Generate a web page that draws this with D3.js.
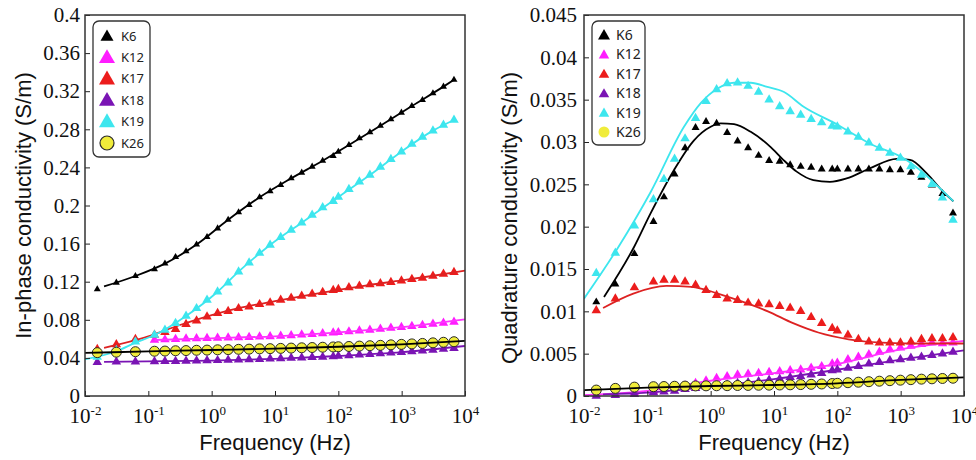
<!DOCTYPE html>
<html>
<head>
<meta charset="utf-8">
<script src="https://cdn.jsdelivr.net/npm/d3@7"></script>
<style>
  html, body { margin: 0; background: #fff; }
  svg { display: block; }
</style>
</head>
<body>
<div id="chart"></div>
<script>
/* Complex conductivity spectra — in-phase (left) and quadrature (right) */

const SAMPLES = ['K6', 'K12', 'K17', 'K18', 'K19', 'K26'];
const MARK_COLORS = ['#000000', '#ff1cff', '#ec1c1c', '#7a14b4', '#3de6ee', '#f0ec3a'];
const LINE_COLORS = ['#000000', '#ff33ff', '#dd2222', '#7a14b4', '#3de6ee', '#000000'];

const FREQ = [0.015625, 0.03125, 0.0625, 0.125, 0.183, 0.269, 0.394, 0.577, 0.845, 1.24, 1.82,
  2.66, 3.9, 5.71, 8.37, 12.3, 18.0, 26.4, 38.6, 56.6, 83.0, 100, 147, 215, 315, 461, 676,
  991, 1450, 2130, 3120, 4570, 6700];

const X_TICKS = [1e-2, 1e-1, 1e0, 1e1, 1e2, 1e3, 1e4];
const X_EXP = ['-2', '-1', '0', '1', '2', '3', '4'];

const Y_TICKS_IP = [0, 0.04, 0.08, 0.12, 0.16, 0.2, 0.24, 0.28, 0.32, 0.36, 0.4];
const Y_LABELS_IP = ['0', '0.04', '0.08', '0.12', '0.16', '0.2', '0.24', '0.28', '0.32', '0.36', '0.4'];
const Y_TICKS_Q = [0, 0.005, 0.01, 0.015, 0.02, 0.025, 0.03, 0.035, 0.04, 0.045];
const Y_LABELS_Q = ['0', '0.005', '0.01', '0.015', '0.02', '0.025', '0.03', '0.035', '0.04', '0.045'];

// In-phase conductivity (S/m), measured
const IP_K6 = [0.112, 0.119, 0.126, 0.133, 0.139, 0.146, 0.152, 0.159, 0.167, 0.176, 0.185, 0.193,
  0.2005, 0.2086, 0.215, 0.2215, 0.2285, 0.2345, 0.2408, 0.247, 0.252, 0.2565, 0.2635, 0.2705,
  0.2768, 0.2838, 0.2905, 0.2975, 0.3045, 0.3108, 0.3178, 0.3248, 0.332];
const IP_K12 = [null, null, null, 0.0588, 0.0592, 0.0596, 0.0600, 0.0603, 0.0606, 0.0609, 0.0612,
  0.0615, 0.0618, 0.0621, 0.0625, 0.0629, 0.0635, 0.0642, 0.0649, 0.0656, 0.0664, 0.0668, 0.0676,
  0.0685, 0.0694, 0.0703, 0.0713, 0.0723, 0.0733, 0.0744, 0.0755, 0.0766, 0.0777];
const IP_K17 = [0.049, 0.054, 0.0595, 0.064, 0.067, 0.070, 0.0753, 0.079, 0.0833, 0.0868, 0.089,
  0.092, 0.0938, 0.0962, 0.098, 0.1008, 0.103, 0.105, 0.107, 0.109, 0.111, 0.112, 0.114, 0.1155,
  0.117, 0.118, 0.1195, 0.121, 0.1225, 0.124, 0.126, 0.128, 0.130];
const IP_K18 = [0.0355, 0.036, 0.036, 0.0362, 0.0364, 0.0366, 0.0368, 0.037, 0.0372, 0.0374, 0.0377,
  0.038, 0.0383, 0.0386, 0.039, 0.0394, 0.0398, 0.0402, 0.0406, 0.041, 0.0415, 0.042, 0.0426,
  0.0432, 0.0439, 0.0446, 0.0453, 0.046, 0.0468, 0.0476, 0.0484, 0.0493, 0.0502];
const IP_K19 = [0.041, 0.048, 0.057, 0.064, 0.0693, 0.0763, 0.084, 0.092, 0.1008, 0.1095, 0.119,
  0.1305, 0.140, 0.150, 0.1585, 0.1666, 0.1743, 0.182, 0.190, 0.198, 0.2045, 0.209, 0.217, 0.225,
  0.232, 0.2405, 0.2485, 0.2565, 0.2645, 0.272, 0.2786, 0.2845, 0.2898];
const IP_K26 = [0.0455, 0.046, 0.0465, 0.047, 0.0472, 0.0475, 0.0477, 0.048, 0.0482, 0.0485, 0.0487,
  0.049, 0.0492, 0.0495, 0.0497, 0.05, 0.0503, 0.0506, 0.0509, 0.0512, 0.0515, 0.0517, 0.052,
  0.0524, 0.0528, 0.0532, 0.0537, 0.0542, 0.0547, 0.0552, 0.0558, 0.0564, 0.057];

// In-phase model fits [freq, value]
const FIT_IP_K6 = [[0.02, 0.115], [0.0625, 0.126], [0.183, 0.139], [0.577, 0.159], [1.82, 0.185],
  [5.71, 0.2086], [18, 0.2285], [56.6, 0.247], [147, 0.2635], [461, 0.2838], [1450, 0.3045],
  [4570, 0.3248], [6700, 0.332]];
const FIT_IP_K12 = [[0.125, 0.0588], [1, 0.0606], [10, 0.0627], [100, 0.0668], [1000, 0.0723], [10000, 0.0805]];
const FIT_IP_K17 = [[0.02, 0.0505], [0.1, 0.0625], [0.3, 0.074], [1, 0.085], [3, 0.093], [10, 0.0995],
  [30, 0.1055], [100, 0.1115], [300, 0.1165], [1000, 0.1213], [3000, 0.126], [10000, 0.1316]];
const FIT_IP_K18 = [[0.02, 0.0358], [1, 0.0372], [10, 0.039], [100, 0.042], [1000, 0.046], [10000, 0.0525]];
const FIT_IP_K19 = [[0.01, 0.0385], [0.0312, 0.047], [0.0625, 0.056], [0.125, 0.064], [0.394, 0.084],
  [1.24, 0.1095], [2.66, 0.1305], [8.37, 0.1585], [26.4, 0.182], [100, 0.209], [315, 0.232],
  [991, 0.2565], [3120, 0.2786], [6700, 0.2898]];
const FIT_IP_K26 = [[0.01, 0.0453], [0.1, 0.0468], [1, 0.0483], [10, 0.0498], [100, 0.0517], [1000, 0.0542], [10000, 0.0578]];

// Quadrature conductivity (S/m), measured
const Q_K6 = [0.0111, 0.0132, 0.0168, 0.0206, 0.0235, 0.0262, 0.0293, 0.0317, 0.0324, 0.0322, 0.0311,
  0.0301, 0.0293, 0.0284, 0.0278, 0.0277, 0.0273, 0.0271, 0.0270, 0.0268, 0.0268, 0.0268, 0.0268,
  0.0268, 0.0268, 0.0268, 0.0267, 0.0267, 0.0264, 0.0258, 0.0249, 0.0239, 0.0216];
const Q_K12 = [0.0002, 0.0003, 0.0004, 0.0006, 0.0008, 0.0010, 0.0012, 0.0015, 0.0018, 0.0021, 0.0023,
  0.0025, 0.0026, 0.0027, 0.0028, 0.0029, 0.0030, 0.0031, 0.0033, 0.0035, 0.0038, 0.0039, 0.0043,
  0.0046, 0.0049, 0.0052, 0.0055, 0.0057, 0.0059, 0.0061, 0.0063, 0.0062, 0.0063];
const Q_K17 = [0.0101, 0.0115, 0.0128, 0.0135, 0.0137, 0.0137, 0.0135, 0.0131, 0.0125, 0.0119, 0.0115,
  0.0113, 0.0110, 0.0109, 0.0108, 0.0106, 0.0104, 0.0100, 0.0093, 0.0086, 0.0080, 0.0077, 0.0072,
  0.0067, 0.0064, 0.0063, 0.0063, 0.0063, 0.0064, 0.0067, 0.0068, 0.0068, 0.0069];
const Q_K18 = [0.0000, 0.0001, 0.0002, 0.0004, 0.0005, 0.0006, 0.0008, 0.0009, 0.0011, 0.0012, 0.0013,
  0.0015, 0.0016, 0.0017, 0.0019, 0.0020, 0.0022, 0.0023, 0.0025, 0.0027, 0.0030, 0.0031, 0.0033,
  0.0035, 0.0038, 0.0040, 0.0042, 0.0043, 0.0045, 0.0046, 0.0048, 0.0050, 0.0052];
const Q_K19 = [0.0145, 0.0169, 0.0201, 0.0232, 0.0256, 0.0280, 0.0304, 0.0328, 0.0348, 0.0362, 0.0369,
  0.0370, 0.0366, 0.0359, 0.0350, 0.0342, 0.0336, 0.0332, 0.0327, 0.0323, 0.0319, 0.0318, 0.0312,
  0.0306, 0.0299, 0.0293, 0.0287, 0.0281, 0.0271, 0.0261, 0.0250, 0.0234, 0.0208];
const Q_K26 = [0.0007, 0.0009, 0.00105, 0.0011, 0.00112, 0.00115, 0.00117, 0.00119, 0.0012, 0.00121,
  0.00122, 0.00124, 0.00125, 0.00127, 0.00128, 0.0013, 0.00132, 0.00135, 0.00138, 0.00142, 0.00147,
  0.0015, 0.00157, 0.00163, 0.00169, 0.00175, 0.00181, 0.00187, 0.00193, 0.00199, 0.00203, 0.00207, 0.0021];

// Quadrature model fits [freq, value]
const FIT_Q_K6 = [[0.0207, 0.0117], [0.0617, 0.0176], [0.113, 0.0216], [0.264, 0.0267], [0.546, 0.0302],
  [1.0, 0.0318], [1.44, 0.0322], [2.34, 0.0321], [4.29, 0.0312], [8.87, 0.0294], [14, 0.0279],
  [22.8, 0.0265], [41.8, 0.0255], [76.6, 0.0253], [140, 0.0257], [328, 0.0269], [865, 0.0280],
  [1405, 0.0279], [2580, 0.0263], [4720, 0.0241], [6790, 0.0230]];
const FIT_Q_K12 = [[0.01, 0.0001], [0.1, 0.0006], [1, 0.0018], [10, 0.0027], [100, 0.0038], [1000, 0.0055], [10000, 0.0065]];
const FIT_Q_K17 = [[0.02, 0.0104], [0.06, 0.0121], [0.2, 0.0130], [0.5, 0.0129], [1.3, 0.0121], [3, 0.0112],
  [8, 0.0100], [20, 0.0086], [50, 0.0075], [150, 0.0067], [500, 0.0063], [2000, 0.0062], [10000, 0.0062]];
const FIT_Q_K18 = [[0.02, 0.0002], [0.1, 0.0004], [1, 0.0011], [10, 0.002], [100, 0.0031], [1000, 0.0043], [10000, 0.0054]];
const FIT_Q_K19 = [[0.01, 0.0115], [0.0336, 0.0174], [0.113, 0.0241], [0.379, 0.0318], [0.697, 0.0346],
  [1.27, 0.0363], [2.34, 0.0370], [4.29, 0.0370], [7.84, 0.0365], [14.4, 0.0359], [29, 0.0342],
  [98, 0.0321], [328, 0.0298], [1100, 0.0281], [2020, 0.0267], [3700, 0.0249], [6790, 0.0230]];
const FIT_Q_K26 = [[0.01, 0.0007], [0.1, 0.001], [1, 0.00118], [10, 0.0013], [100, 0.0015], [1000, 0.0019], [10000, 0.0022]];

const W = 976, H = 460, PT = 15, PB = 396;
const SERIF = '"Liberation Serif", "Times New Roman", serif';
const SANS = '"Liberation Sans", Arial, sans-serif';
const LEG_FONT = '"Noto Sans", "Open Sans", sans-serif';

const triArea = w => Math.sqrt(3) / 4 * w * w;
const circArea = d => Math.PI * d * d / 4;

const svg = d3.select('#chart').append('svg').attr('width', W).attr('height', H);

function drawPanel(p) {
  const x = d3.scaleLog().domain([1e-2, 1e4]).range([p.x0, p.x1]);
  const y = d3.scaleLinear().domain([0, p.yMax]).range([PB, PT]);
  const g = svg.append('g');

  g.append('clipPath').attr('id', 'clip-' + p.id).append('rect')
    .attr('x', p.x0).attr('y', PT).attr('width', p.x1 - p.x0).attr('height', PB - PT);

  const line = d3.line().x(d => x(d[0])).y(d => y(d[1])).curve(d3.curveMonotoneX);

  SAMPLES.forEach((name, i) => {
    const pts = FREQ.map((f, k) => [f, p.data[i][k]]).filter(d => d[1] != null);
    const isCircle = name === 'K26';
    const sym = d3.symbol(isCircle ? d3.symbolCircle : d3.symbolTriangle,
      isCircle ? circArea(p.circD) : triArea(i === 0 ? p.tri0 : p.tri));
    g.append('g').selectAll('path').data(pts).join('path')
      .attr('transform', d => `translate(${x(d[0])},${y(d[1])})`)
      .attr('d', sym)
      .attr('fill', MARK_COLORS[i])
      .attr('stroke', isCircle ? '#2a2a2a' : 'none').attr('stroke-width', 1);
    g.append('path').datum(p.fits[i])
      .attr('clip-path', `url(#clip-${p.id})`)
      .attr('d', line).attr('fill', 'none')
      .attr('stroke', LINE_COLORS[i]).attr('stroke-width', 1.8);
  });

  // axes (ticks point inward)
  const xa = g.append('g').attr('transform', `translate(0,${PB})`)
    .call(d3.axisBottom(x).tickValues(X_TICKS).tickSize(-5).tickSizeOuter(0).tickPadding(12).tickFormat(() => ''))
    .attr('font-family', SERIF).attr('font-size', 21).attr('color', '#222');
  xa.select('.domain').remove();
  xa.selectAll('.tick text').each(function(d, i) {
    const t = d3.select(this).attr('fill', '#111');
    t.append('tspan').text('10');
    t.append('tspan').attr('dy', -8).attr('font-size', 13).text(X_EXP[i]);
  });

  const ya = g.append('g').attr('transform', `translate(${p.x0},0)`)
    .call(d3.axisLeft(y).tickValues(p.yTicks).tickSize(-5).tickSizeOuter(0).tickPadding(p.pad)
      .tickFormat((d, i) => p.yLabels[i]))
    .attr('font-family', SERIF).attr('font-size', 21).attr('color', '#222');
  ya.select('.domain').remove();
  ya.selectAll('.tick text').attr('fill', '#111');

  g.append('rect').attr('x', p.x0).attr('y', PT).attr('width', p.x1 - p.x0).attr('height', PB - PT)
    .attr('fill', 'none').attr('stroke', '#333').attr('stroke-width', 1.5);

  // titles
  g.append('text').attr('x', (p.x0 + p.x1) / 2).attr('y', 450).attr('text-anchor', 'middle')
    .attr('font-family', SANS).attr('font-size', 22).attr('fill', '#111').text('Frequency (Hz)');
  g.append('text').attr('transform', `translate(${p.titleX},${p.titleY}) rotate(-90)`)
    .attr('text-anchor', 'middle').attr('font-family', SANS).attr('font-size', 22)
    .attr('fill', '#111').text(p.yTitle);

  // legend
  const L = p.legend;
  const lg = g.append('g');
  lg.append('rect').attr('x', L.x).attr('y', L.y).attr('width', L.w).attr('height', L.h)
    .attr('rx', 6).attr('fill', '#fff').attr('stroke', '#333').attr('stroke-width', 1.3);
  SAMPLES.forEach((name, i) => {
    const cy = L.row0 + i * L.dy;
    const isCircle = name === 'K26';
    lg.append('path').attr('transform', `translate(${L.mx},${cy + (isCircle ? 0 : 1)})`)
      .attr('d', d3.symbol(isCircle ? d3.symbolCircle : d3.symbolTriangle,
        isCircle ? circArea(L.circD) : triArea(i === 0 ? L.tri0 : L.tri)))
      .attr('fill', MARK_COLORS[i])
      .attr('stroke', isCircle && L.circStroke ? '#2a2a2a' : 'none').attr('stroke-width', 1.2);
    lg.append('text').attr('x', L.tx).attr('y', cy).attr('dy', '0.36em')
      .attr('font-family', LEG_FONT).attr('font-size', L.font).attr('fill', '#222').text(name);
  });
}

drawPanel({
  id: 'ip', x0: 85, x1: 465, yMax: 0.4, yTicks: Y_TICKS_IP, yLabels: Y_LABELS_IP, pad: 5,
  data: [IP_K6, IP_K12, IP_K17, IP_K18, IP_K19, IP_K26],
  fits: [FIT_IP_K6, FIT_IP_K12, FIT_IP_K17, FIT_IP_K18, FIT_IP_K19, FIT_IP_K26],
  tri0: 7, tri: 9.5, circD: 10,
  yTitle: 'In-phase conductivity (S/m)', titleX: 31, titleY: 205.5,
  legend: { x: 93, y: 21, w: 57, h: 136, row0: 36, dy: 21.4, mx: 107, tx: 121, font: 13,
    tri0: 13, tri: 16, circD: 14, circStroke: true }
});

drawPanel({
  id: 'q', x0: 584, x1: 964, yMax: 0.045, yTicks: Y_TICKS_Q, yLabels: Y_LABELS_Q, pad: 7,
  data: [Q_K6, Q_K12, Q_K17, Q_K18, Q_K19, Q_K26],
  fits: [FIT_Q_K6, FIT_Q_K12, FIT_Q_K17, FIT_Q_K18, FIT_Q_K19, FIT_Q_K26],
  tri0: 8, tri: 9.5, circD: 10,
  yTitle: 'Quadrature conductivity (S/m)', titleX: 517, titleY: 218,
  legend: { x: 592, y: 21, w: 53, h: 124, row0: 35, dy: 19.4, mx: 604, tx: 616, font: 14,
    tri0: 12, tri: 10.5, circD: 11, circStroke: false }
});
</script>
</body>
</html>
